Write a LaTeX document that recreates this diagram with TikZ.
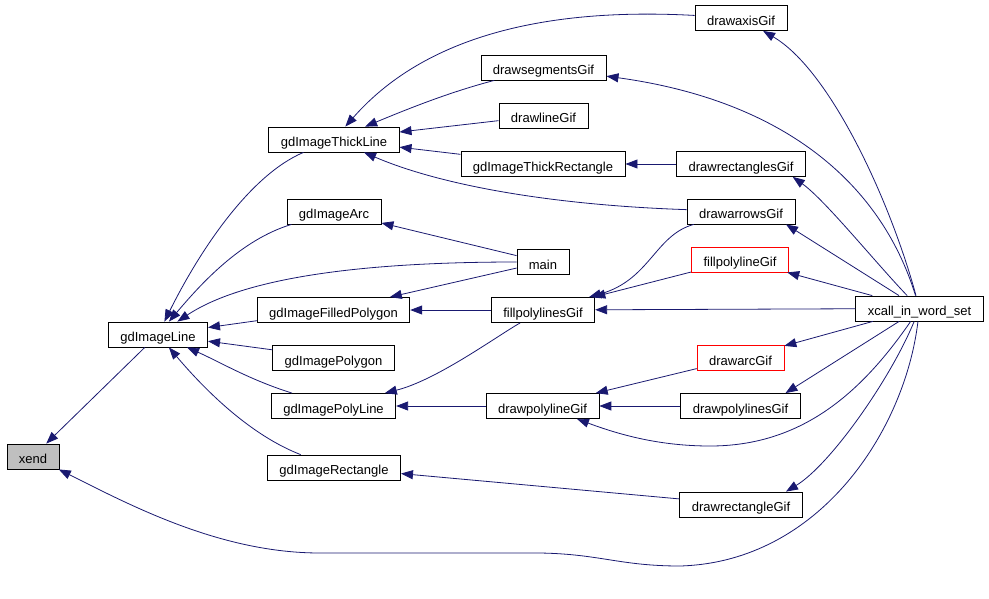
\documentclass[tikz,border=0pt]{standalone}
\usepackage{fontspec}
\setmainfont{Liberation Sans}
\usepackage{tikz}
\usetikzlibrary{arrows.meta, positioning}
\definecolor{edgeblue}{RGB}{25,25,112}

\begin{document}
\begin{tikzpicture}[x=1pt,y=-1pt,node distance=198pt]
 \tikzstyle{funcbox}=[rectangle,draw=black,line width=0.8pt,
   minimum height=25pt,inner xsep=12pt,inner ysep=2pt,
   text height=14pt,text depth=0pt,
   font=\fontsize{13}{15}\selectfont,text centered]
 \tikzstyle{callline}=[-{Triangle[length=12pt,width=9pt]},draw=edgeblue,
   line width=0.8pt]
 \useasboundingbox (0,0) rectangle (989,598);
 \node (gdImageThickLine) [funcbox] at (334,139.5) {gdImageThickLine};
 \node (drawaxisGif) [funcbox] at (741,18) {drawaxisGif};
 \node (drawsegmentsGif) [funcbox] at (543.5,67.5) {drawsegmentsGif};
 \node (drawlineGif) [funcbox] at (543.5,115.5) {drawlineGif};
 \node (gdImageThickRectangle) [funcbox] at (543,164) {gdImageThickRectangle};
 \node (drawrectanglesGif) [funcbox,right of=gdImageThickRectangle]
   {drawrectanglesGif};
 \node (gdImageArc) [funcbox] at (334,211.5) {gdImageArc};
 \node (drawarrowsGif) [funcbox] at (741,211.5) {drawarrowsGif};
 \node (main) [funcbox] at (543,262) {main};
 \node (fillpolylineGif) [funcbox,draw=red] at (740,259.5) {fillpolylineGif};
 \node (gdImageFilledPolygon) [funcbox] at (333.5,310) {gdImageFilledPolygon};
 \node (fillpolylinesGif) [funcbox,right of=gdImageFilledPolygon,xshift=11.5pt]
   {fillpolylinesGif};
 \node (xcall) [funcbox] at (919.5,308.5) {xcall\_in\_word\_set};
 \node (gdImageLine) [funcbox] at (158,334.5) {gdImageLine};
 \node (gdImagePolygon) [funcbox] at (333.5,358) {gdImagePolygon};
 \node (drawarcGif) [funcbox,draw=red] at (740.5,358) {drawarcGif};
 \node (gdImagePolyLine) [funcbox] at (333.5,406) {gdImagePolyLine};
 \node (drawpolylineGif) [funcbox,right of=gdImagePolyLine,xshift=11pt]
   {drawpolylineGif};
 \node (drawpolylinesGif) [funcbox,right of=drawpolylineGif]
   {drawpolylinesGif};
 \node (xend) [funcbox,fill=gray!50] at (33,456.5) {xend};
 \node (gdImageRectangle) [funcbox] at (334,467.5) {gdImageRectangle};
 \node (drawrectangleGif) [funcbox] at (741,504.5) {drawrectangleGif};

 \draw[callline] (gdImageLine) -- (xend);
 \draw[callline] (xcall) .. controls (905,430) and (820,562) .. (680,566)
   .. controls (620,566) and (600,554) .. (540,553) -- (320,553)
   .. controls (220,553) and (130,505) .. (xend);
 \draw[callline] (gdImageThickLine) .. controls (250,175) and (200,250) .. (gdImageLine);
 \draw[callline] (gdImageArc) .. controls (240,240) and (200,285) .. (gdImageLine);
 \draw[callline] (main) .. controls (350,262) and (240,280) .. (gdImageLine);
 \draw[callline] (gdImageFilledPolygon) -- (gdImageLine);
 \draw[callline] (gdImagePolygon) -- (gdImageLine);
 \draw[callline] (gdImagePolyLine) .. controls (250,380) and (220,362) .. (gdImageLine);
 \draw[callline] (gdImageRectangle) .. controls (250,435) and (205,390) .. (gdImageLine);
 \draw[callline] (drawaxisGif) .. controls (560,8) and (430,30) .. (gdImageThickLine);
 \draw[callline] (drawsegmentsGif) .. controls (450,92) and (410,108) .. (gdImageThickLine);
 \draw[callline] (drawlineGif) -- (gdImageThickLine);
 \draw[callline] (gdImageThickRectangle) -- (gdImageThickLine);
 \draw[callline] (drawarrowsGif) .. controls (550,205) and (440,185) .. (gdImageThickLine);
 \draw[callline] (main) -- (gdImageArc);
 \draw[callline] (main) -- (gdImageFilledPolygon);
 \draw[callline] (fillpolylinesGif) -- (gdImageFilledPolygon);
 \draw[callline] (fillpolylinesGif) .. controls (497,336) and (437,380) .. (gdImagePolyLine);
 \draw[callline] (drawpolylineGif) -- (gdImagePolyLine);
 \draw[callline] (drawrectangleGif) -- (gdImageRectangle);
 \draw[callline] (drawrectanglesGif) -- (gdImageThickRectangle);
 \draw[callline] (drawarrowsGif) .. controls (655,235) and (650,280) .. (fillpolylinesGif);
 \draw[callline] (fillpolylineGif) -- (fillpolylinesGif);
 \draw[callline] (xcall) -- (fillpolylinesGif);
 \draw[callline] (drawarcGif) -- (drawpolylineGif);
 \draw[callline] (drawpolylinesGif) -- (drawpolylineGif);
 \draw[callline] (xcall) .. controls (860,395) and (800,446) .. (710,446)
   .. controls (660,446) and (620,435) .. (drawpolylineGif);
 \draw[callline] (xcall) .. controls (890,200) and (830,70) .. (drawaxisGif);
 \draw[callline] (xcall) .. controls (880,180) and (780,100) .. (drawsegmentsGif);
 \draw[callline] (xcall) .. controls (875,262) and (825,200) .. (drawrectanglesGif.-14);
 \draw[callline] (xcall) -- (drawarrowsGif.-16);
 \draw[callline] (xcall) -- (fillpolylineGif);
 \draw[callline] (xcall) -- (drawarcGif);
 \draw[callline] (xcall) -- (drawpolylinesGif.16);
 \draw[callline] (xcall) .. controls (890,380) and (830,465) .. (drawrectangleGif.16);
\end{tikzpicture}
\end{document}
